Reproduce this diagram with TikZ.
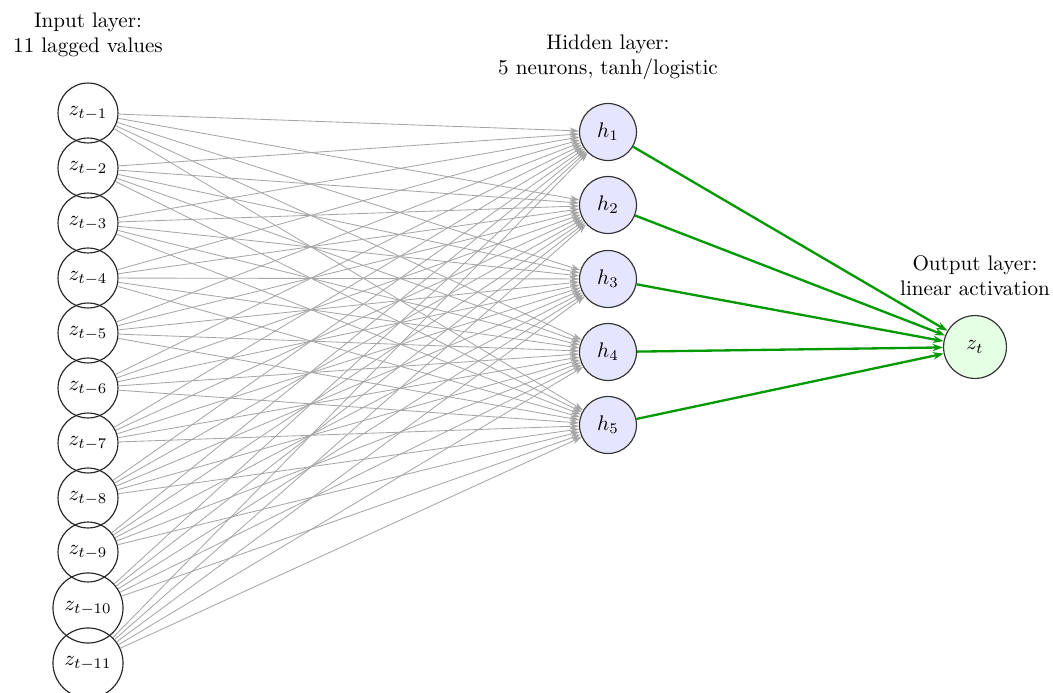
\documentclass[tikz,border=0pt]{standalone}
\usetikzlibrary{arrows.meta}
\begin{document}
\begin{tikzpicture}[x=0.4739pt,y=-0.4739pt,
  inp/.style={circle,draw=black!85,line width=0.55pt,minimum size=28.4pt,inner sep=0pt},
  inpw/.style={inp,minimum size=33.2pt},
  hid/.style={circle,draw=black!80,line width=0.55pt,fill=blue!10,minimum size=27pt,inner sep=0pt},
  outn/.style={circle,draw=black!80,line width=0.55pt,fill=green!10,minimum size=29.8pt,inner sep=0pt},
  wgray/.style={draw=black!35,line width=0.4pt,-{Stealth[length=4.5pt,width=3pt]}},
  wgreen/.style={draw=green!60!black,line width=1.1pt,-{Stealth[length=5pt,width=3.5pt]}},
  lbl/.style={align=center,inner sep=0pt}]
\useasboundingbox (0,0) rectangle (1053,693);
% input nodes
\node[inp] (i1) at (88,113) {$z_{t-1}$};
\node[inp] (i2) at (88,168) {$z_{t-2}$};
\node[inp] (i3) at (88,223) {$z_{t-3}$};
\node[inp] (i4) at (88,278) {$z_{t-4}$};
\node[inp] (i5) at (88,333) {$z_{t-5}$};
\node[inp] (i6) at (88,388) {$z_{t-6}$};
\node[inp] (i7) at (88,443) {$z_{t-7}$};
\node[inp] (i8) at (88,498) {$z_{t-8}$};
\node[inp] (i9) at (88,552) {$z_{t-9}$};
\node[inpw] (i10) at (88,608) {$z_{t-10}$};
\node[inpw] (i11) at (88,663) {$z_{t-11}$};
% hidden nodes
\node[hid] (h1) at (608,132) {$h_1$};
\node[hid] (h2) at (608,205) {$h_2$};
\node[hid] (h3) at (608,279) {$h_3$};
\node[hid] (h4) at (608,352) {$h_4$};
\node[hid] (h5) at (608,425) {$h_5$};
% output node
\node[outn] (o) at (975,347) {$z_t$};
% labels
\node[lbl] (li) at (88,35) {Input layer:\\11 lagged values};
\node[lbl] (lh) at (608,57) {Hidden layer:\\5 neurons, tanh/logistic};
\node[lbl] (lo) at (975,276) {Output layer:\\linear activation};
% edges
\foreach \i in {1,...,11}
  \foreach \h in {1,...,5}
    \draw[wgray] (i\i) -- (h\h);
\foreach \h in {1,...,5}
  \draw[wgreen] (h\h) -- (o);
\end{tikzpicture}
\end{document}
